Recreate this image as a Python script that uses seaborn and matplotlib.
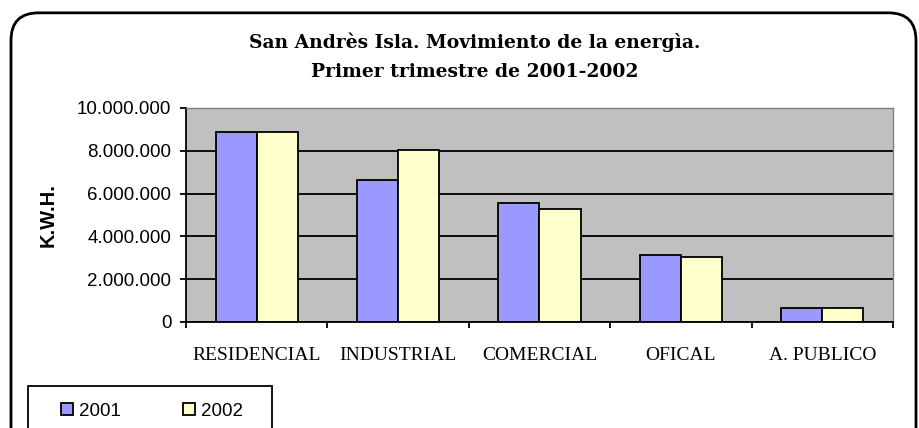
import pandas as pd
import matplotlib
matplotlib.use("Agg")
import matplotlib.pyplot as plt
import seaborn as sns
from matplotlib.patches import FancyBboxPatch, Rectangle
from matplotlib.ticker import FuncFormatter, FixedLocator

# data
categories = ["RESIDENCIAL", "INDUSTRIAL", "COMERCIAL", "OFICAL", "A. PUBLICO"]
years = ["2001", "2002"]
kwh_2001 = [8860000, 6620000, 5550000, 3150000, 640000]
kwh_2002 = [8860000, 8050000, 5270000, 3060000, 640000]
bar_colors = ["#9999FF", "#FFFFCC"]

df = pd.DataFrame({
    "categoria": categories * 2,
    "year": [years[0]] * len(categories) + [years[1]] * len(categories),
    "kwh": kwh_2001 + kwh_2002,
})

sns.set_theme(style="white")
plt.rcParams["font.family"] = ["Liberation Sans", "DejaVu Sans"]
plt.rcParams["text.color"] = "black"
plt.rcParams["axes.labelcolor"] = "black"
plt.rcParams["xtick.color"] = "black"
plt.rcParams["ytick.color"] = "black"

fig = plt.figure(figsize=(9.2, 4.28), dpi=100)
ax = fig.add_axes([186 / 920, 106 / 428, 707 / 920, 214 / 428])

sns.barplot(data=df, x="categoria", y="kwh", hue="year", palette=bar_colors,
            saturation=1, edgecolor="black", linewidth=1.3, width=0.58, gap=0, ax=ax)

ax.set_facecolor("#C0C0C0")
ax.set_ylim(0, 10000000)
ax.set_xlim(-0.5, len(categories) - 0.5)
ax.yaxis.set_major_locator(FixedLocator(range(0, 10000001, 2000000)))
ax.yaxis.set_major_formatter(FuncFormatter(lambda v, p: f"{int(v):,}".replace(",", ".")))
ax.grid(axis="y", color="black", linewidth=1.3)
ax.set_axisbelow(True)

for side in ["top", "right"]:
    ax.spines[side].set_color("#808080")
    ax.spines[side].set_linewidth(1.0)
for side in ["left", "bottom"]:
    ax.spines[side].set_color("black")
    ax.spines[side].set_linewidth(1.3)

ax.tick_params(axis="y", which="major", direction="out", length=4.5, width=1.3,
               labelsize=13.5, pad=6, left=True)
ax.set_xticks(range(len(categories)))
ax.set_xticklabels(categories, fontfamily="Liberation Serif", fontsize=14)
ax.set_xticks([i - 0.5 for i in range(len(categories) + 1)], minor=True)
ax.tick_params(axis="x", which="major", length=0, pad=18)
ax.tick_params(axis="x", which="minor", direction="out", length=4.5, width=1.3,
               bottom=True)
ax.set_xlabel("")
ax.set_ylabel("K.W.H.", fontsize=14.5, fontweight="bold")
ax.yaxis.set_label_coords((58 - 186) / 707, 0.5)

ax.get_legend().remove()

# legend box at the bottom left, cut by the figure edge
fig.patches.append(Rectangle((28 / 920, -0.05), 244 / 920, (428 - 386) / 428 + 0.05,
                             transform=fig.transFigure, facecolor="white",
                             edgecolor="black", linewidth=1.3))
handles = [plt.Rectangle((0, 0), 1, 1, facecolor=c, edgecolor="black", linewidth=1.3)
           for c in bar_colors]
leg = fig.legend(handles, years, loc="center", ncol=2,
                 bbox_to_anchor=(152 / 920, 1 - 411 / 428), fontsize=13.5,
                 frameon=False, handlelength=0.65, handleheight=0.65,
                 handletextpad=0.3, columnspacing=3.3, borderaxespad=0, borderpad=0)

fig.text(475 / 920, 1 - 57 / 428,
         "San Andrès Isla. Movimiento de la energìa.\nPrimer trimestre de 2001-2002",
         ha="center", va="center", fontsize=13.5, fontweight="bold",
         fontfamily="DejaVu Serif", linespacing=1.75)

border = FancyBboxPatch((11 / 920, -0.1), 905 / 920, 1.07,
                        boxstyle="round,pad=0,rounding_size=0.03",
                        transform=fig.transFigure, facecolor="none",
                        edgecolor="black", linewidth=2.0, mutation_aspect=920 / 428)
fig.patches.append(border)

fig.savefig("out.png", dpi=100)
